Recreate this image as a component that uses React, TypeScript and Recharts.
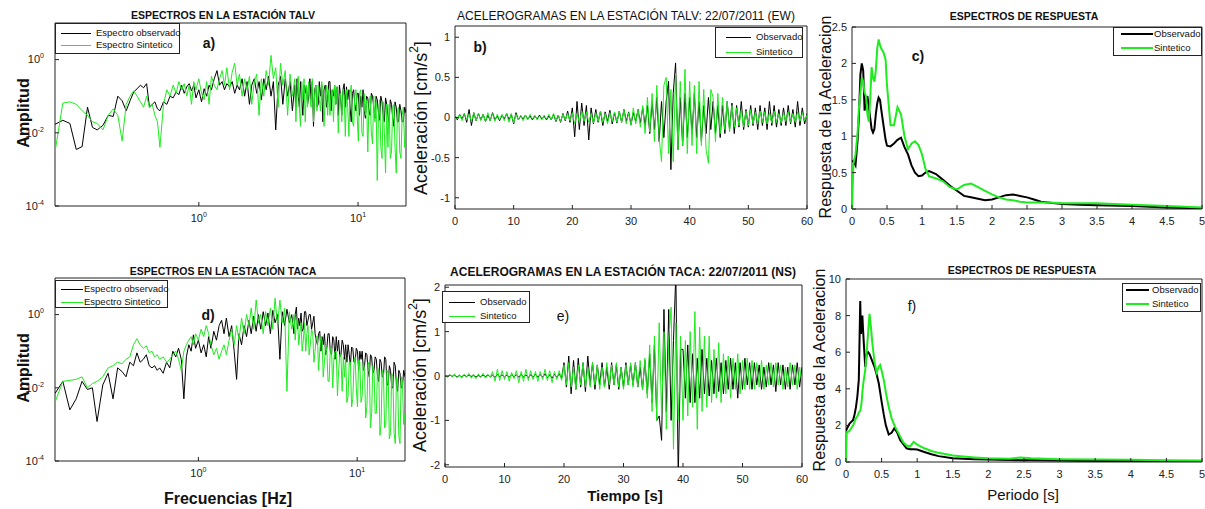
import React from 'react';
import { LineChart, Line, XAxis, YAxis, Legend, ReferenceArea } from 'recharts';

// --- espectros de Fourier (a, d) ---
const FREQ = [
    0.125, 0.14, 0.155, 0.17, 0.185, 0.2, 0.215, 0.23, 0.25, 0.27,
    0.29, 0.31, 0.33, 0.35, 0.37, 0.39, 0.41, 0.43, 0.45, 0.47,
    0.49, 0.51, 0.53, 0.55, 0.57, 0.6, 0.63, 0.66, 0.69, 0.72,
    0.75, 0.78, 0.81, 0.84, 0.87, 0.9, 0.93, 0.96, 1.0, 1.04,
    1.08, 1.12, 1.16, 1.2, 1.25, 1.3, 1.35, 1.4, 1.45, 1.5,
    1.56, 1.62, 1.68, 1.74, 1.8, 1.87, 1.94, 2.01, 2.08, 2.15,
    2.23, 2.31, 2.39, 2.47, 2.56, 2.65, 2.74, 2.84, 2.94, 3.04,
    3.15, 3.26, 3.37, 3.49, 3.61, 3.74, 3.87,
    4.0, 4.07, 4.14, 4.21, 4.28, 4.35, 4.43, 4.5, 4.58, 4.66,
    4.74, 4.82, 4.9, 4.98, 5.07, 5.16, 5.25, 5.34, 5.43, 5.52,
    5.62, 5.71, 5.81, 5.91, 6.01, 6.11, 6.22, 6.33, 6.44, 6.55,
    6.66, 6.77, 6.89, 7.01, 7.13, 7.25, 7.38, 7.51, 7.64, 7.77,
    7.9, 8.04, 8.18, 8.32, 8.46, 8.61, 8.76, 8.91, 9.06, 9.22,
    9.38, 9.54, 9.7, 9.87, 10.04, 10.21, 10.39, 10.57, 10.75, 10.93,
    11.12, 11.31, 11.51, 11.71, 11.91, 12.12, 12.33, 12.54, 12.76, 12.98,
    13.2, 13.43, 13.66, 13.9, 14.14, 14.38, 14.63, 14.88, 15.14, 15.4,
    15.67, 15.94, 16.22, 16.5, 16.78, 17.07, 17.37, 17.67, 17.97, 18.28,
    18.6, 18.92, 19.25, 19.62, 20.0,
];

const TALV_OBS_SPEC = [
    0.017, 0.022, 0.018, 0.0035, 0.0042, 0.05, 0.014, 0.012, 0.016, 0.03,
    0.028, 0.1, 0.075, 0.04, 0.075, 0.13, 0.16, 0.2, 0.17, 0.22,
    0.05, 0.06, 0.07, 0.045, 0.04, 0.07, 0.06, 0.1, 0.09, 0.13,
    0.11, 0.2, 0.12, 0.18, 0.22, 0.14, 0.2, 0.09, 0.15, 0.07,
    0.16, 0.1, 0.2, 0.15, 0.3, 0.5, 0.2, 0.25, 0.15, 0.22,
    0.18, 0.25, 0.12, 0.2, 0.15, 0.3, 0.1, 0.25, 0.06, 0.2,
    0.3, 0.12, 0.25, 0.08, 0.3, 0.15, 0.35, 0.1, 0.25, 0.012,
    0.2, 0.35, 0.06, 0.3, 0.1, 0.25, 0.04,
    0.2, 0.05, 0.3, 0.1, 0.05, 0.25, 0.08, 0.03, 0.2, 0.12,
    0.2, 0.06, 0.1, 0.3, 0.08, 0.25, 0.015, 0.15, 0.2, 0.05,
    0.06, 0.25, 0.1, 0.2, 0.02, 0.15, 0.2, 0.05, 0.08, 0.25,
    0.25, 0.04, 0.15, 0.1, 0.2, 0.06, 0.18, 0.03, 0.2, 0.1,
    0.03, 0.15, 0.22, 0.05, 0.18, 0.08, 0.15, 0.05, 0.02, 0.12,
    0.15, 0.06, 0.04, 0.12, 0.12, 0.03, 0.1, 0.05, 0.15, 0.04,
    0.025, 0.1, 0.09, 0.04, 0.03, 0.12, 0.1, 0.05, 0.025, 0.1,
    0.08, 0.035, 0.022, 0.1, 0.07, 0.03, 0.02, 0.09, 0.06, 0.03,
    0.018, 0.08, 0.06, 0.025, 0.015, 0.07, 0.05, 0.02, 0.02, 0.06,
    0.04, 0.02, 0.02, 0.05, 0.035,
];

const TALV_SYN_SPEC = [
    0.003, 0.065, 0.07, 0.06, 0.04, 0.03, 0.02, 0.018, 0.012, 0.03,
    0.045, 0.03, 0.006, 0.06, 0.1, 0.14, 0.1, 0.07, 0.05, 0.1,
    0.05, 0.06, 0.03, 0.02, 0.004, 0.06, 0.15, 0.1, 0.2, 0.12,
    0.25, 0.15, 0.22, 0.1, 0.2, 0.06, 0.25, 0.15, 0.3, 0.12,
    0.08, 0.25, 0.06, 0.35, 0.2, 0.15, 0.3, 0.5, 0.2, 0.6,
    0.15, 0.45, 0.8, 0.2, 0.4, 0.1, 0.3, 0.15, 0.35, 0.06,
    0.25, 0.4, 0.03, 0.3, 0.1, 0.5, 0.2, 1.3, 0.3, 0.6,
    0.05, 0.8, 0.2, 0.5, 0.03, 0.4, 0.1,
    0.3, 0.02, 0.15, 0.35, 0.05, 0.015, 0.25, 0.08, 0.3, 0.02,
    0.2, 0.05, 0.25, 0.1, 0.05, 0.3, 0.02, 0.12, 0.2, 0.04,
    0.2, 0.08, 0.04, 0.25, 0.15, 0.015, 0.1, 0.2, 0.03, 0.15,
    0.03, 0.12, 0.15, 0.02, 0.2, 0.06, 0.18, 0.01, 0.08, 0.12,
    0.02, 0.15, 0.1, 0.008, 0.15, 0.05, 0.008, 0.12, 0.2, 0.02,
    0.015, 0.1, 0.15, 0.03, 0.006, 0.12, 0.15, 0.01, 0.008, 0.12,
    0.03, 0.08, 0.003, 0.06, 0.1, 0.01, 0.005, 0.1, 0.02, 0.07,
    0.0005, 0.03, 0.08, 0.004, 0.002, 0.07, 0.01, 0.0008, 0.06, 0.004,
    0.06, 0.002, 0.003, 0.05, 0.06, 0.004, 0.0008, 0.04, 0.05, 0.003,
    0.002, 0.03, 0.05, 0.004, 0.01,
];

const TACA_OBS_SPEC = [
    0.007, 0.015, 0.0025, 0.005, 0.015, 0.009, 0.01, 0.0012, 0.012, 0.025,
    0.005, 0.035, 0.028, 0.02, 0.05, 0.04, 0.09, 0.05, 0.06, 0.08,
    0.04, 0.035, 0.04, 0.03, 0.035, 0.025, 0.05, 0.035, 0.1, 0.07,
    0.12, 0.06, 0.005, 0.07, 0.15, 0.1, 0.28, 0.12, 0.2, 0.09,
    0.15, 0.07, 0.25, 0.12, 0.35, 0.2, 0.5, 0.7, 0.3, 0.8,
    0.25, 0.5, 0.1, 0.017, 0.3, 0.15, 0.5, 0.25, 0.7, 0.3,
    0.9, 0.35, 1.0, 0.4, 1.2, 0.5, 1.1, 0.3, 1.3, 0.6,
    1.0, 0.06, 1.2, 0.5, 1.4, 0.6, 1.0,
    0.3, 1.0, 1.6, 0.4, 0.8, 0.5, 1.1, 0.35, 0.4, 1.2,
    1.2, 0.5, 0.7, 1.0, 1.0, 0.4, 0.6, 0.9, 0.3, 0.2,
    0.15, 0.3, 0.35, 0.1, 0.25, 0.15, 0.3, 0.08, 0.12, 0.3,
    0.3, 0.1, 0.08, 0.25, 0.2, 0.06, 0.25, 0.1, 0.2, 0.07,
    0.08, 0.2, 0.15, 0.06, 0.15, 0.05, 0.15, 0.08, 0.04, 0.13,
    0.12, 0.05, 0.05, 0.12, 0.1, 0.03, 0.1, 0.06, 0.1, 0.03,
    0.04, 0.09, 0.08, 0.03, 0.02, 0.08, 0.07, 0.025, 0.03, 0.07,
    0.06, 0.02, 0.015, 0.06, 0.05, 0.02, 0.02, 0.07, 0.06, 0.012,
    0.012, 0.04, 0.03, 0.01, 0.01, 0.05, 0.04, 0.012, 0.008, 0.03,
    0.025, 0.01, 0.01, 0.03, 0.02,
];

const TACA_SYN_SPEC = [
    0.004, 0.015, 0.016, 0.017, 0.02, 0.01, 0.013, 0.015, 0.02, 0.035,
    0.04, 0.05, 0.045, 0.06, 0.07, 0.15, 0.22, 0.15, 0.12, 0.14,
    0.09, 0.1, 0.07, 0.08, 0.06, 0.07, 0.05, 0.06, 0.08, 0.1,
    0.06, 0.03, 0.1, 0.15, 0.2, 0.25, 0.15, 0.3, 0.2, 0.4,
    0.25, 0.5, 0.3, 0.15, 0.08, 0.12, 0.06, 0.1, 0.15, 0.08,
    0.2, 0.4, 0.15, 0.5, 0.2, 0.8, 0.3, 1.0, 0.5, 1.5,
    0.4, 2.5, 0.6, 1.0, 0.3, 1.2, 0.5, 1.5, 0.4, 2.8,
    0.5, 2.5, 0.6, 1.5, 0.008, 1.2, 0.4,
    1.0, 0.2, 0.6, 0.8, 0.15, 0.3, 0.6, 0.1, 0.2, 0.6,
    0.1, 0.3, 0.5, 0.08, 0.15, 0.4, 0.3, 0.05, 0.1, 0.25,
    0.25, 0.03, 0.1, 0.25, 0.2, 0.02, 0.05, 0.15, 0.1, 0.015,
    0.015, 0.12, 0.12, 0.01, 0.06, 0.1, 0.1, 0.006, 0.03, 0.08,
    0.08, 0.008, 0.07, 0.02, 0.07, 0.004, 0.006, 0.05, 0.05, 0.003,
    0.005, 0.04, 0.07, 0.01, 0.003, 0.06, 0.05, 0.004, 0.006, 0.05,
    0.03, 0.0015, 0.003, 0.05, 0.04, 0.0008, 0.002, 0.04, 0.03, 0.002,
    0.002, 0.035, 0.03, 0.0005, 0.001, 0.03, 0.025, 0.0008, 0.001, 0.03,
    0.025, 0.0004, 0.0006, 0.025, 0.02, 0.0006, 0.0003, 0.02, 0.015, 0.0005,
    0.0003, 0.02, 0.015, 0.001, 0.002,
];

// --- acelerogramas (b, e) ---
const TIME = [
    0, 0.4, 0.8, 1.2, 1.6, 2, 2.4, 2.8, 3.2, 3.6,
    4, 4.4, 4.8, 5.2, 5.6, 6, 6.4, 6.8, 7.2, 7.6,
    8, 8.4, 8.8, 9.2, 9.6, 10, 10.4, 10.8, 11.2, 11.6,
    12, 12.4, 12.8, 13.2, 13.6, 14, 14.4, 14.8, 15.2, 15.6,
    16, 16.4, 16.8, 17.2, 17.6, 18, 18.4, 18.8, 19.2, 19.6,
    20, 20.4, 20.8, 21.2, 21.6, 22, 22.4, 22.8, 23.2, 23.6,
    24, 24.4, 24.8, 25.2, 25.6, 26, 26.4, 26.8, 27.2, 27.6,
    28, 28.4, 28.8, 29.2, 29.6, 30, 30.4, 30.8, 31.2, 31.6,
    32, 32.4, 32.8, 33.2, 33.6, 34, 34.4, 34.8, 35.2, 35.6,
    36, 36.4, 36.8, 37.2, 37.6, 38, 38.4, 38.8, 39.2, 39.6,
    40, 40.4, 40.8, 41.2, 41.6, 42, 42.4, 42.8, 43.2, 43.6,
    44, 44.4, 44.8, 45.2, 45.6, 46, 46.4, 46.8, 47.2, 47.6,
    48, 48.4, 48.8, 49.2, 49.6, 50, 50.4, 50.8, 51.2, 51.6,
    52, 52.4, 52.8, 53.2, 53.6, 54, 54.4, 54.8, 55.2, 55.6,
    56, 56.4, 56.8, 57.2, 57.6, 58, 58.4, 58.8, 59.2, 59.6, 60,
];

const TALV_OBS_ACC = [
    0.02, -0.03, 0.04, -0.02, 0.05, -0.06, 0.1, -0.1, 0.06, -0.04,
    0.05, -0.03, 0.04, -0.05, 0.03, -0.04, 0.06, -0.03, 0.02, -0.04,
    0.03, -0.02, 0.05, -0.03, 0.04, -0.08, 0.06, -0.03, 0.02, -0.02,
    0.03, -0.02, 0.02, -0.03, 0.02, -0.02, 0.03, -0.02, 0.02, -0.03,
    0.02, -0.03, 0.04, -0.05, 0.03, -0.06, 0.05, -0.04, 0.08, -0.06,
    0.12, -0.24, 0.2, -0.15, 0.18, -0.1, 0.15, -0.28, 0.12, -0.08,
    0.1, -0.06, 0.08, -0.1, 0.07, -0.05, 0.09, -0.08, 0.06, -0.07,
    0.08, -0.06, 0.1, -0.05, 0.07, -0.09, 0.06, -0.05, 0.1, -0.07,
    0.12, -0.1, 0.15, -0.2, 0.2, -0.15, 0.25, -0.3, 0.2, -0.25,
    0.2, 0.45, -0.65, 0.3, 0.68, -0.4, 0.25, -0.35, 0.3, -0.25,
    0.25, -0.2, 0.3, -0.25, 0.2, -0.3, 0.15, -0.2, 0.25, -0.15,
    0.2, -0.2, 0.15, -0.25, 0.15, -0.2, 0.2, -0.15, 0.18, -0.2,
    0.15, -0.12, 0.2, -0.15, 0.1, -0.12, 0.15, -0.1, 0.12, -0.15,
    0.15, -0.1, 0.12, -0.15, 0.2, -0.1, 0.15, -0.12, 0.1, -0.1,
    0.12, -0.1, 0.15, -0.08, 0.1, -0.12, 0.2, -0.1, 0.12, -0.08, 0.05,
];

const TALV_SYN_ACC = [
    0.03, -0.02, 0.04, -0.04, 0.05, -0.03, 0.04, -0.05, 0.06, -0.04,
    0.05, -0.04, 0.04, -0.05, 0.06, -0.04, 0.05, -0.05, 0.04, -0.03,
    0.04, -0.04, 0.05, -0.06, 0.05, -0.07, 0.04, -0.03, 0.03, -0.04,
    0.03, -0.03, 0.04, -0.02, 0.03, -0.03, 0.02, -0.03, 0.03, -0.02,
    0.04, -0.03, 0.05, -0.04, 0.03, -0.05, 0.04, -0.03, 0.05, -0.04,
    0.06, -0.08, 0.05, -0.06, 0.08, -0.05, 0.07, -0.06, 0.05, -0.07,
    0.06, -0.05, 0.08, -0.06, 0.05, -0.08, 0.06, -0.05, 0.07, -0.06,
    0.08, -0.06, 0.1, -0.08, 0.06, -0.1, 0.12, -0.08, 0.1, -0.12,
    0.15, -0.2, 0.25, -0.18, 0.3, -0.3, 0.4, -0.25, -0.55, 0.4,
    0.5, -0.45, 0.35, -0.55, 0.55, -0.4, 0.45, -0.35, 0.6, -0.45,
    0.45, -0.35, 0.4, -0.45, 0.45, -0.35, 0.35, -0.4, -0.57, 0.35,
    0.25, -0.3, 0.3, -0.2, 0.25, -0.15, 0.2, -0.18, 0.15, -0.12,
    0.12, -0.1, 0.1, -0.12, 0.08, -0.1, 0.1, -0.08, 0.07, -0.08,
    0.08, -0.06, 0.07, -0.08, 0.06, -0.07, 0.08, -0.06, 0.05, -0.07,
    0.06, -0.05, 0.07, -0.06, 0.05, -0.06, 0.07, -0.05, 0.06, -0.04, 0.03,
];

const TACA_OBS_ACC = [
    0.01, -0.02, 0.02, -0.01, 0.02, -0.02, 0.01, -0.02, 0.02, -0.01,
    0.02, -0.01, 0.02, -0.02, 0.01, -0.02, 0.02, -0.01, 0.02, -0.02,
    0.02, -0.03, 0.03, -0.02, 0.03, -0.03, 0.02, -0.03, 0.03, -0.02,
    0.03, -0.03, 0.04, -0.03, 0.03, -0.04, 0.03, -0.03, 0.04, -0.03,
    0.04, -0.03, 0.05, -0.04, 0.03, -0.05, 0.04, -0.03, 0.05, -0.05,
    0.3, -0.25, 0.45, -0.4, 0.35, -0.3, 0.4, -0.25, 0.3, -0.35,
    0.45, -0.2, 0.3, -0.3, 0.25, -0.2, 0.3, -0.25, 0.2, -0.3,
    0.3, -0.2, 0.25, -0.3, 0.2, -0.25, 0.3, -0.2, 0.25, -0.2,
    0.3, -0.25, 0.2, -0.3, 0.35, -0.4, 0.5, -0.6, 0.7, -1.0,
    -0.9, -1.45, 1.5, -0.8, 1.5, -1.0, 0.8, 2.3, -2.3, 0.6,
    0.6, -0.5, 0.7, -0.6, 0.5, -0.6, 0.4, -0.5, 0.6, -0.4,
    0.4, -0.45, 0.35, -0.4, 0.4, -0.35, 0.3, -0.4, 0.35, -0.3,
    0.4, -0.3, 0.3, -0.5, 0.3, -0.3, 0.4, -0.2, 0.3, -0.3,
    0.3, -0.2, 0.25, -0.3, 0.2, -0.25, 0.3, -0.2, 0.25, -0.35,
    0.3, -0.2, 0.25, -0.3, 0.2, -0.3, 0.25, -0.2, 0.3, -0.25, 0.2,
];

const TACA_SYN_ACC = [
    0.03, -0.02, 0.04, -0.03, 0.05, -0.04, 0.03, -0.05, 0.04, -0.03,
    0.06, -0.05, 0.04, -0.06, 0.05, -0.04, 0.06, -0.05, 0.04, -0.03,
    0.1, -0.12, 0.15, -0.1, 0.12, -0.08, 0.1, -0.12, 0.08, -0.06,
    0.12, -0.15, 0.1, -0.12, 0.15, -0.1, 0.12, -0.08, 0.1, -0.12,
    0.1, -0.08, 0.15, -0.1, 0.12, -0.15, 0.1, -0.08, 0.12, -0.1,
    0.25, -0.2, 0.3, -0.25, 0.2, -0.3, 0.25, -0.2, 0.3, -0.25,
    0.2, -0.25, 0.3, -0.2, 0.25, -0.3, 0.2, -0.25, 0.3, -0.2,
    0.25, -0.2, 0.3, -0.25, 0.2, -0.3, 0.25, -0.2, 0.3, -0.25,
    0.3, -0.25, 0.35, -0.3, 0.4, -0.5, 0.7, -0.8, 0.9, -1.0,
    1.2, -0.9, 1.0, -1.2, 0.8, 1.55, -1.65, 1.2, -1.0, 0.9,
    -1.0, 0.8, -0.9, 1.0, -0.7, 1.45, -1.2, 1.1, -0.8, 0.9,
    -0.7, 0.9, -0.6, 0.6, -0.5, 0.75, -0.6, 0.5, -0.4, 0.45,
    -0.5, 0.4, -0.3, 0.5, -0.4, 0.35, -0.3, 0.4, -0.3, 0.35,
    -0.3, 0.3, -0.25, 0.35, -0.3, 0.25, -0.2, 0.3, -0.25, 0.3,
    -0.2, 0.25, -0.3, 0.2, -0.25, 0.3, -0.2, 0.25, -0.3, 0.2, -0.15,
];

// --- espectros de respuesta (c, f) ---
const PERIOD_C = [
    0, 0.02, 0.05, 0.08, 0.1, 0.12, 0.14, 0.16, 0.18, 0.2,
    0.22, 0.24, 0.26, 0.28, 0.3, 0.32, 0.34, 0.36, 0.38, 0.4,
    0.42, 0.45, 0.48, 0.5, 0.55, 0.6, 0.65, 0.7, 0.75, 0.8,
    0.85, 0.9, 0.95, 1.0, 1.05, 1.1, 1.2, 1.3, 1.4, 1.5,
    1.6, 1.7, 1.8, 1.9, 2.0, 2.1, 2.2, 2.3, 2.4, 2.5,
    2.6, 2.7, 2.8, 3.0, 3.25, 3.5, 4.0, 4.5, 5.0,
];
const TALV_OBS_RESP = [
    0.65, 0.66, 0.6, 0.95, 1.3, 1.85, 2.0, 1.9, 1.35, 1.5,
    1.55, 1.4, 1.25, 1.1, 1.05, 1.1, 1.3, 1.45, 1.53, 1.5,
    1.35, 1.15, 0.95, 0.87, 0.86, 0.9, 0.95, 0.98, 0.85, 0.75,
    0.6, 0.5, 0.45, 0.46, 0.5, 0.52, 0.48, 0.4, 0.32, 0.25,
    0.18, 0.16, 0.14, 0.12, 0.13, 0.16, 0.19, 0.2, 0.18, 0.16,
    0.13, 0.1, 0.09, 0.07, 0.06, 0.05, 0.04, 0.02, 0.01,
];
const TALV_SYN_RESP = [
    0, 0.62, 0.75, 1.05, 1.4, 1.6, 1.8, 1.75, 1.6, 1.55,
    1.3, 1.2, 1.5, 1.95, 1.8, 1.75, 1.9, 2.2, 2.33, 2.25,
    2.2, 2.15, 2.05, 1.7, 1.15, 1.15, 1.4, 1.3, 1.0, 0.82,
    0.9, 0.93, 0.88, 0.75, 0.55, 0.45, 0.42, 0.38, 0.3, 0.27,
    0.33, 0.35, 0.3, 0.25, 0.2, 0.16, 0.13, 0.12, 0.1, 0.09,
    0.09, 0.09, 0.09, 0.08, 0.08, 0.08, 0.06, 0.04, 0.02,
];

const PERIOD_F = [
    0, 0.01, 0.05, 0.1, 0.12, 0.14, 0.16, 0.18, 0.2, 0.21,
    0.22, 0.23, 0.24, 0.25, 0.27, 0.29, 0.31, 0.33, 0.35, 0.37,
    0.4, 0.43, 0.46, 0.48, 0.5, 0.53, 0.56, 0.6, 0.64, 0.68,
    0.72, 0.76, 0.8, 0.85, 0.9, 0.95, 1.0, 1.1, 1.2, 1.3,
    1.5, 1.8, 2.0, 2.3, 2.45, 2.6, 3.0, 3.5, 4.0, 4.5,
    5.0,
];
const TACA_OBS_RESP = [
    1.7, 1.8, 2.1, 2.3, 2.6, 3.0, 3.6, 4.5, 8.8, 7.0,
    7.5, 8.0, 7.2, 6.5, 5.2, 5.9, 6.0, 5.9, 5.7, 5.5,
    5.2, 4.8, 4.3, 3.8, 3.3, 2.6, 2.0, 1.5, 1.6, 1.85,
    1.6, 1.2, 1.0, 0.75, 0.7, 0.7, 0.68, 0.55, 0.42, 0.32,
    0.2, 0.15, 0.13, 0.11, 0.1, 0.09, 0.08, 0.06, 0.05, 0.04,
    0.03,
];
const TACA_SYN_RESP = [
    0, 1.6, 1.7, 2.0, 2.2, 2.4, 2.5, 2.7, 2.8, 3.0,
    3.3, 3.8, 4.2, 4.5, 5.0, 6.0, 7.0, 8.1, 7.4, 6.5,
    5.5, 4.9, 5.2, 5.3, 5.0, 4.5, 3.8, 3.0, 2.4, 2.0,
    1.7, 1.4, 1.1, 0.9, 0.85, 1.1, 0.95, 0.75, 0.6, 0.5,
    0.35, 0.25, 0.2, 0.18, 0.25, 0.2, 0.15, 0.13, 0.12, 0.1,
    0.08,
];

// ticks
const LOG_X_TICKS = [1, 10];
const LOG_Y_TICKS = [0.0001, 0.01, 1];
const TIME_TICKS = [0, 10, 20, 30, 40, 50, 60];
const ACC_TALV_TICKS = [-1, -0.5, 0, 0.5, 1];
const ACC_TACA_TICKS = [-2, -1, 0, 1, 2];
const PERIOD_TICKS = [0, 0.5, 1, 1.5, 2, 2.5, 3, 3.5, 4, 4.5, 5];
const RESP_TALV_TICKS = [0, 0.5, 1, 1.5, 2, 2.5];
const RESP_TACA_TICKS = [0, 2, 4, 6, 8, 10];

const FONT = '"Liberation Sans", Arial, sans-serif';
const OBS = '#000000';
const SYN = '#1eec1e';
const INK = '#222';

const YW = 50;
const MT = 6;
const MR = 6;
const XH = 28;

const zip = (xs: number[], a: number[], b: number[]) =>
    xs.map((x, i) => ({ x, obs: a[i], syn: b[i] }));

function LogTickX({ x, y, payload }: any) {
    const e = Math.round(Math.log10(payload.value));
    return (
        <text x={x} y={y} textAnchor="middle" fontSize={11} fill={INK}>
            <tspan dy="0.71em">10</tspan>
            <tspan dy={-5} fontSize={7}>{e}</tspan>
        </text>
    );
}

function LogTickY({ x, y, payload }: any) {
    const e = Math.round(Math.log10(payload.value));
    return (
        <text x={x - 6} y={y} textAnchor="end" fontSize={11} fill={INK}>
            <tspan dy="0.35em">10</tspan>
            <tspan dy={-5} fontSize={7}>{e}</tspan>
        </text>
    );
}

type Box = { left: number; top: number; w: number; h: number; sx: number; sw: number; tx: number; rows: number[] };

function LegendBox({ payload, box, lw }: { payload: any[]; box: Box; lw: number }) {
    return (
        <div
            style={{
                position: 'relative',
                width: box.w,
                height: box.h,
                boxSizing: 'border-box',
                border: `1px solid ${INK}`,
                background: '#fff',
                fontFamily: FONT,
                fontSize: 9.5,
                color: '#111',
            }}
        >
            {(payload ?? []).map((p, i) => (
                <React.Fragment key={i}>
                    <div
                        style={{
                            position: 'absolute',
                            left: box.sx,
                            top: box.rows[i] - 1 - lw / 2,
                            width: box.sw,
                            height: lw,
                            background: p.color,
                        }}
                    />
                    <div
                        style={{
                            position: 'absolute',
                            left: box.tx,
                            top: box.rows[i] - 7,
                            lineHeight: '12px',
                            whiteSpace: 'nowrap',
                        }}
                    >
                        {p.value}
                    </div>
                </React.Fragment>
            ))}
        </div>
    );
}

interface PanelProps {
    x: number;
    y: number;
    w: number;
    h: number;
    data: { x: number; obs: number; syn: number }[];
    xDomain: [number, number];
    yDomain: [number, number];
    xTicks: number[];
    yTicks: number[];
    log?: boolean;
    lw: number;
    names: [string, string];
    box: Box;
}

function Panel({ x, y, w, h, data, xDomain, yDomain, xTicks, yTicks, log, lw, names, box }: PanelProps) {
    const scale = log ? 'log' : 'linear';
    const tickStyle = { fontSize: 11, fill: INK, fontFamily: FONT };
    return (
        <div style={{ position: 'absolute', left: x - YW, top: y - MT }}>
            <LineChart
                width={YW + w + MR}
                height={MT + h + XH}
                data={data}
                margin={{ top: MT, right: MR, left: 0, bottom: 0 }}
            >
                <XAxis
                    dataKey="x"
                    type="number"
                    scale={scale}
                    domain={xDomain}
                    ticks={xTicks}
                    interval={0}
                    allowDataOverflow
                    height={XH}
                    axisLine={false}
                    tickSize={-4}
                    tickMargin={12}
                    tickLine={{ stroke: INK }}
                    tick={log ? <LogTickX /> : tickStyle}
                />
                <YAxis
                    type="number"
                    scale={scale}
                    domain={yDomain}
                    ticks={yTicks}
                    interval={0}
                    allowDataOverflow
                    width={YW}
                    axisLine={false}
                    tickSize={-4}
                    tickMargin={9}
                    tickLine={{ stroke: INK }}
                    tick={log ? <LogTickY /> : tickStyle}
                />
                <ReferenceArea
                    x1={xDomain[0]}
                    x2={xDomain[1]}
                    y1={yDomain[0]}
                    y2={yDomain[1]}
                    fill="none"
                    stroke={INK}
                    strokeWidth={1}
                    ifOverflow="visible"
                />
                <Line
                    type="linear"
                    dataKey="obs"
                    name={names[0]}
                    stroke={OBS}
                    strokeWidth={lw}
                    dot={false}
                    isAnimationActive={false}
                />
                <Line
                    type="linear"
                    dataKey="syn"
                    name={names[1]}
                    stroke={SYN}
                    strokeWidth={lw}
                    dot={false}
                    isAnimationActive={false}
                />
                <Legend
                    layout="horizontal"
                    verticalAlign="middle"
                    align="center"
                    itemSorter="dataKey"
                    wrapperStyle={{
                        left: box.left - (x - YW),
                        top: box.top - (y - MT),
                        width: 'auto',
                        height: 'auto',
                        margin: 0,
                    }}
                    content={(props: any) => <LegendBox payload={props.payload} box={box} lw={lw} />}
                />
            </LineChart>
        </div>
    );
}

function Overlay() {
    const t = (x: number, y: number, s: string, size: number, bold: boolean) => (
        <text
            x={x}
            y={y}
            textAnchor="middle"
            dominantBaseline="central"
            fontSize={size}
            fontWeight={bold ? 'bold' : 'normal'}
            fill="#111"
        >
            {s}
        </text>
    );
    const v = (x: number, y: number, s: string, size: number, bold: boolean) => (
        <text
            x={x}
            y={y}
            textAnchor="middle"
            dominantBaseline="central"
            fontSize={size}
            fontWeight={bold ? 'bold' : 'normal'}
            fill="#111"
            transform={`rotate(-90 ${x} ${y})`}
        >
            {s}
        </text>
    );
    const acc = (x: number, y: number) => (
        <text
            x={x}
            y={y}
            textAnchor="middle"
            dominantBaseline="central"
            fontSize={18}
            fill="#111"
            transform={`rotate(-90 ${x} ${y})`}
        >
            Aceleración [cm/s
            <tspan dy={-7} fontSize={12}>2</tspan>
            <tspan dy={7}>]</tspan>
        </text>
    );
    return (
        <svg
            width={1205}
            height={509}
            style={{ position: 'absolute', left: 0, top: 0, pointerEvents: 'none', fontFamily: FONT }}
        >
            {t(223, 15, 'ESPECTROS EN LA ESTACIÓN TALV', 10.5, true)}
            {t(626, 16, 'ACELEROGRAMAS EN LA ESTACIÓN TALV: 22/07/2011 (EW)', 12, false)}
            {t(1024, 16, 'ESPECTROS DE RESPUESTA', 10.5, true)}
            {t(223, 271, 'ESPECTROS EN LA ESTACIÓN TACA', 10.5, true)}
            {t(623, 272, 'ACELEROGRAMAS EN LA ESTACIÓN TACA: 22/07/2011 (NS)', 12, true)}
            {t(1022, 270, 'ESPECTROS DE RESPUESTA', 10.5, true)}

            {v(23, 113, 'Amplitud', 16, true)}
            {v(23, 368, 'Amplitud', 16, true)}
            {acc(421, 118)}
            {acc(420, 375)}
            {v(825, 117, 'Respuesta de la Aceleracion', 16, false)}
            {v(819, 370, 'Respuesta de la Aceleracion', 16, false)}

            {t(228, 498, 'Frecuencias [Hz]', 16, true)}
            {t(625, 495, 'Tiempo [s]', 15, true)}
            {t(1023, 494, 'Periodo [s]', 15, false)}

            {t(209, 43, 'a)', 14, true)}
            {t(480, 47, 'b)', 14, true)}
            {t(918, 56, 'c)', 14, true)}
            {t(208, 315, 'd)', 14, true)}
            {t(563, 316, 'e)', 14, false)}
            {t(912, 306, 'f)', 14, false)}
        </svg>
    );
}

export default function App() {
    const specA = zip(FREQ, TALV_OBS_SPEC, TALV_SYN_SPEC);
    const specD = zip(FREQ, TACA_OBS_SPEC, TACA_SYN_SPEC);
    const accB = zip(TIME, TALV_OBS_ACC, TALV_SYN_ACC);
    const accE = zip(TIME, TACA_OBS_ACC, TACA_SYN_ACC);
    const respC = zip(PERIOD_C, TALV_OBS_RESP, TALV_SYN_RESP);
    const respF = zip(PERIOD_F, TACA_OBS_RESP, TACA_SYN_RESP);

    return (
        <div
            style={{
                position: 'absolute',
                left: 0,
                top: 0,
                width: 1205,
                height: 509,
                background: '#fff',
                fontFamily: FONT,
                overflow: 'hidden',
            }}
        >
            <Panel
                x={55} y={23} w={351} h={183}
                data={specA}
                xDomain={[0.125, 20]} yDomain={[0.0001, 10]}
                xTicks={LOG_X_TICKS} yTicks={LOG_Y_TICKS}
                log lw={1}
                names={['Espectro observado', 'Espectro Sintetico']}
                box={{ left: 55, top: 23, w: 125, h: 31, sx: 5, sw: 30, tx: 40, rows: [10, 22] }}
            />
            <Panel
                x={455} y={26} w={352} h={183}
                data={accB}
                xDomain={[0, 60]} yDomain={[-1.14, 1.14]}
                xTicks={TIME_TICKS} yTicks={ACC_TALV_TICKS}
                lw={1}
                names={['Observado', 'Sintetico']}
                box={{ left: 715, top: 27, w: 88, h: 31, sx: 10, sw: 25, tx: 40, rows: [10, 25] }}
            />
            <Panel
                x={852} y={27} w={350} h={182}
                data={respC}
                xDomain={[0, 5]} yDomain={[0, 2.5]}
                xTicks={PERIOD_TICKS} yTicks={RESP_TALV_TICKS}
                lw={2}
                names={['Observado', 'Sintetico']}
                box={{ left: 1113, top: 27, w: 89, h: 29, sx: 7, sw: 32, tx: 40, rows: [7, 21] }}
            />
            <Panel
                x={55} y={278} w={350} h={183}
                data={specD}
                xDomain={[0.125, 20]} yDomain={[0.0001, 10]}
                xTicks={LOG_X_TICKS} yTicks={LOG_Y_TICKS}
                log lw={1}
                names={['Espectro observado', 'Espectro Sintetico']}
                box={{ left: 55, top: 280, w: 113, h: 28, sx: 5, sw: 22, tx: 28, rows: [9, 22] }}
            />
            <Panel
                x={445} y={285} w={357} h={182}
                data={accE}
                xDomain={[0, 60]} yDomain={[-2.05, 2.05]}
                xTicks={TIME_TICKS} yTicks={ACC_TACA_TICKS}
                lw={1}
                names={['Observado', 'Sintetico']}
                box={{ left: 442, top: 291, w: 88, h: 32, sx: 6, sw: 26, tx: 37, rows: [11, 25] }}
            />
            <Panel
                x={846} y={279} w={356} h={183}
                data={respF}
                xDomain={[0, 5]} yDomain={[0, 10]}
                xTicks={PERIOD_TICKS} yTicks={RESP_TACA_TICKS}
                lw={2}
                names={['Observado', 'Sintetico']}
                box={{ left: 1122, top: 283, w: 79, h: 29, sx: 3, sw: 23, tx: 29, rows: [7, 21] }}
            />
            <Overlay />
        </div>
    );
}
